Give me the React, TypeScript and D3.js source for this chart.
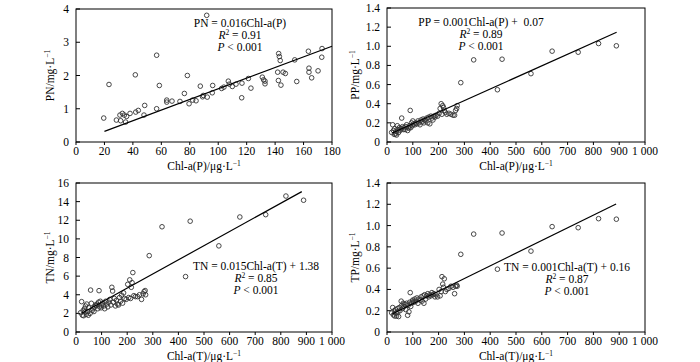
import React from 'react';
import * as d3 from 'd3';

// Chl-a(P) vs PN (panel a)
const chlP = [19.5, 23.2, 28.4, 30.9, 31.4, 32.6, 34, 35.6, 34.9, 38, 41.7, 42, 43.8, 47.8, 48.3, 56.7, 56.7, 58.6,
  63.8, 63.8, 67.5, 73.1, 76.2, 78.3, 79.5, 82, 84.4, 87.4, 89, 91.9, 89.5, 92.3, 95.8, 96.1, 102.4, 104, 107.1,
  107.8, 109.9, 112.5, 116.7, 116.5, 121.2, 123, 131, 131.9, 132.9, 132.9, 142.5, 143, 143.6, 141.8, 142.3, 144.1,
  145.6, 147.2, 153.8, 155.2, 163.4, 163.8, 163.8, 165.7, 170.2, 172.8, 173];
const pn = [0.72, 1.73, 0.66, 0.81, 0.64, 0.86, 0.81, 0.77, 0.6, 0.86, 2.02, 0.9, 0.95, 0.81, 1.1, 2.61, 1.0, 1.7,
  1.26, 1.2, 1.23, 1.22, 1.46, 2.0, 1.15, 1.26, 1.24, 1.68, 1.36, 3.81, 1.4, 1.35, 1.48, 1.7, 1.61, 1.65, 1.83,
  1.74, 1.67, 1.74, 1.77, 1.33, 1.91, 1.62, 1.95, 1.87, 1.83, 1.75, 2.66, 2.57, 2.45, 2.1, 1.85, 1.71,
  2.1, 2.06, 2.47, 1.82, 2.73, 2.22, 2.1, 1.93, 2.14, 2.55, 2.81];

// Chl-a(T) shared by panels b, c, d
const chlT = [18, 22, 25, 28, 30, 33, 35, 37, 40, 42, 45, 48, 50, 55, 57, 60, 63, 66, 70, 73, 76, 80, 82, 85, 88,
  90, 92, 95, 98, 100, 104, 108, 112, 116, 120, 124, 128, 132, 136, 140, 143, 146, 150, 154, 158, 162, 166, 170,
  174, 178, 182, 186, 190, 196, 202, 206, 210, 213, 216, 219, 222, 226, 232, 240, 248, 256, 262, 266, 270, 272,
  286, 336, 428, 446, 558, 640, 741, 820, 889];
const pp = [0.10, 0.18, 0.12, 0.08, 0.14, 0.084, 0.11, 0.073, 0.17, 0.13, 0.10, 0.15, 0.12, 0.14, 0.25, 0.16, 0.13,
  0.15, 0.13, 0.16, 0.18, 0.12, 0.15, 0.145, 0.17, 0.33, 0.15, 0.20, 0.17, 0.22, 0.19, 0.18, 0.20, 0.19, 0.22, 0.20,
  0.18, 0.23, 0.21, 0.24, 0.20, 0.23, 0.22, 0.25, 0.20, 0.26, 0.19, 0.27, 0.25, 0.23, 0.27, 0.26, 0.28, 0.27, 0.30,
  0.35, 0.40, 0.29, 0.38, 0.36, 0.33, 0.31, 0.29, 0.30, 0.29, 0.28, 0.28, 0.33, 0.35, 0.38,
  0.62, 0.858, 0.546, 0.865, 0.714, 0.949, 0.938, 1.029, 1.005];
const tn = [2.07, 3.26, 1.8, 2.3, 1.75, 2.5, 2.18, 2.79, 1.9, 3.0, 2.2, 1.8, 2.6, 2.0, 4.5, 3.08, 2.3, 2.5, 2.2,
  2.7, 2.9, 2.86, 3.0, 2.5, 3.2, 4.44, 2.7, 3.3, 2.6, 2.9, 3.1, 2.8, 2.5, 3.3, 3.0, 2.7, 3.2, 3.5, 2.9, 4.8, 4.4,
  3.2, 3.6, 2.8, 3.4, 3.0, 2.9, 3.7, 3.3, 3.95, 3.1, 4.2, 3.6, 3.5, 5.12, 3.7, 5.6, 3.6, 4.8, 5.3, 6.38, 3.9, 3.8,
  3.8, 4.0, 3.5, 4.1, 4.33, 4.45, 4.0,
  8.2, 11.3, 5.95, 11.9, 9.25, 12.35, 12.6, 14.6, 14.15];
const tp = [0.18, 0.23, 0.16, 0.2, 0.15, 0.21, 0.18, 0.15, 0.22, 0.19, 0.145, 0.23, 0.2, 0.29, 0.25, 0.22, 0.27,
  0.24, 0.26, 0.21, 0.27, 0.157, 0.25, 0.19, 0.28, 0.37, 0.24, 0.27, 0.29, 0.3, 0.28, 0.31, 0.29, 0.32, 0.27, 0.31,
  0.30, 0.33, 0.29, 0.34, 0.27, 0.35, 0.31, 0.34, 0.36, 0.33, 0.35, 0.34, 0.37, 0.35, 0.36, 0.33, 0.35, 0.33, 0.40,
  0.34, 0.38, 0.52, 0.45, 0.42, 0.50, 0.38, 0.40, 0.41, 0.43, 0.42, 0.36, 0.43, 0.44, 0.43,
  0.73, 0.92, 0.59, 0.93, 0.76, 0.99, 0.98, 1.065, 1.06];

// regression lines as drawn: [slope, intercept, xStart, xEnd]
const fitPN = [0.016, 0, 20, 180];
const fitPP = [0.00121, 0.07, 20, 890];
const fitTN = [0.0152, 1.67, 22, 882];
const fitTP = [0.00119, 0.146, 20, 888];

const ticksX1 = [0, 20, 40, 60, 80, 100, 120, 140, 160, 180];
const ticksX2 = [0, 100, 200, 300, 400, 500, 600, 700, 800, 900, 1000];
const ticksYPN = [0, 1, 2, 3, 4];
const ticksYP = [0, 0.2, 0.4, 0.6, 0.8, 1.0, 1.2, 1.4];
const ticksYTN = [0, 2, 4, 6, 8, 10, 12, 14, 16];

const fmtX2 = (v: number) => (v === 1000 ? '1 000' : String(v));
const fmtYP = (v: number) => (v === 0 ? '0' : v.toFixed(1));

const FONT = '"Liberation Serif", "Times New Roman", serif';

type PanelProps = {
  box: [number, number, number, number]; // left, top, right, bottom
  xDomain: [number, number];
  yDomain: [number, number];
  xTicks: number[];
  yTicks: number[];
  fmtX?: (v: number) => string;
  fmtY?: (v: number) => string;
  xs: number[];
  ys: number[];
  fit: number[];
  xLabel: string;
  yLabel: string;
  yTitleX: number;
  eq: string;
  r2: string;
  eqPos: [number, number];
};

function Unit({ name }: { name: string }) {
  return (
    <>
      {name}
      <tspan dy="-4" fontSize="7.5">−1</tspan>
    </>
  );
}

function Panel(p: PanelProps) {
  const [l, t, r, b] = p.box;
  const x = d3.scaleLinear().domain(p.xDomain).range([l, r]);
  const y = d3.scaleLinear().domain(p.yDomain).range([b, t]);
  const fmtX = p.fmtX || ((v: number) => String(v));
  const fmtY = p.fmtY || ((v: number) => String(v));
  const [k, c, x0, x1] = p.fit;
  const line = d3.line<number>().x(v => x(v)).y(v => y(k * v + c));
  const [ex, ey] = p.eqPos;
  return (
    <g fontFamily={FONT} fontSize="11.5" fill="#000">
      <rect x={l} y={t} width={r - l} height={b - t} fill="none" stroke="#000" strokeWidth="1" />
      {p.yTicks.map(v => (
        <g key={'y' + v}>
          <line x1={l} x2={l + 4} y1={y(v)} y2={y(v)} stroke="#000" />
          <text x={l - 7} y={y(v)} dy="0.35em" textAnchor="end">{fmtY(v)}</text>
        </g>
      ))}
      {p.xTicks.map(v => (
        <g key={'x' + v}>
          <line x1={x(v)} x2={x(v)} y1={b} y2={b + 3} stroke="#000" />
          <text x={x(v)} y={b + 13} textAnchor="middle">{fmtX(v)}</text>
        </g>
      ))}
      {p.xs.map((v, i) => (
        <circle key={i} cx={x(v)} cy={y(p.ys[i])} r="2.3" fill="none" stroke="#333" strokeWidth="0.9" />
      ))}
      <path d={line([x0, x1]) || ''} fill="none" stroke="#000" strokeWidth="1.2" />
      <text x={(l + r) / 2} y={b + 28} textAnchor="middle"><Unit name={p.xLabel} /></text>
      <text transform={`translate(${p.yTitleX},${(t + b) / 2}) rotate(-90)`} textAnchor="middle"><Unit name={p.yLabel} /></text>
      <text x={ex} y={ey} textAnchor="middle" style={{ whiteSpace: 'pre' }}>{p.eq}</text>
      <text x={ex} y={ey + 12} textAnchor="middle">
        <tspan fontStyle="italic">R</tspan>
        <tspan dy="-4" fontSize="7.5">2</tspan>
        <tspan dy="4"> = {p.r2}</tspan>
      </text>
      <text x={ex} y={ey + 24} textAnchor="middle">
        <tspan fontStyle="italic">P</tspan> &lt; 0.001
      </text>
    </g>
  );
}

export default function App() {
  return (
    <svg width={700} height={362} style={{ position: 'absolute', left: 0, top: 0, background: '#fff' }}>
      <Panel box={[76, 9, 332, 142]} xDomain={[0, 180]} yDomain={[0, 4]} xTicks={ticksX1} yTicks={ticksYPN}
        xs={chlP} ys={pn} fit={fitPN} xLabel="Chl-a(P)/μg·L" yLabel="PN/mg·L" yTitleX={54}
        eq="PN = 0.016Chl-a(P)" r2="0.91" eqPos={[240, 27]} />
      <Panel box={[387, 8, 645, 142]} xDomain={[0, 1000]} yDomain={[0, 1.4]} xTicks={ticksX2} yTicks={ticksYP}
        fmtX={fmtX2} fmtY={fmtYP} xs={chlT} ys={pp} fit={fitPP} xLabel="Chl-a(P)/μg·L" yLabel="PP/mg·L" yTitleX={359}
        eq="PP = 0.001Chl-a(P) +  0.07" r2="0.89" eqPos={[481, 26]} />
      <Panel box={[76, 183, 332, 332]} xDomain={[0, 1000]} yDomain={[0, 16]} xTicks={ticksX2} yTicks={ticksYTN}
        fmtX={fmtX2} xs={chlT} ys={tn} fit={fitTN} xLabel="Chl-a(T)/μg·L" yLabel="TN/mg·L" yTitleX={54}
        eq="TN = 0.015Chl-a(T) + 1.38" r2="0.85" eqPos={[256, 270]} />
      <Panel box={[387, 183, 645, 332]} xDomain={[0, 1000]} yDomain={[0, 1.4]} xTicks={ticksX2} yTicks={ticksYP}
        fmtX={fmtX2} fmtY={fmtYP} xs={chlT} ys={tp} fit={fitTP} xLabel="Chl-a(T)/μg·L" yLabel="TP/mg·L" yTitleX={359}
        eq="TN = 0.001Chl-a(T) + 0.16" r2="0.87" eqPos={[567, 271]} />
    </svg>
  );
}
